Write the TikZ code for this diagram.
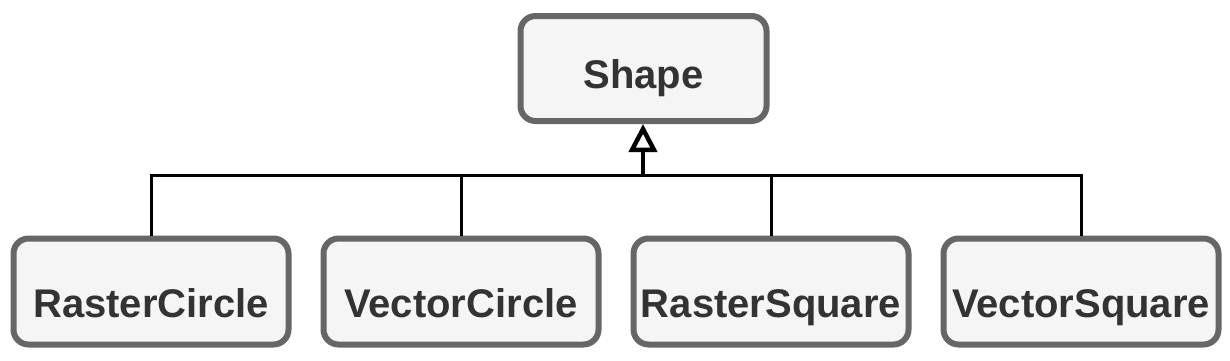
\documentclass[tikz,border=0pt]{standalone}
\usepackage{fontspec}
\setmainfont{Liberation Sans}
\usetikzlibrary{arrows.meta}
\definecolor{boxfill}{HTML}{F5F5F5}
\definecolor{boxdraw}{HTML}{666666}
\definecolor{txt}{HTML}{333333}
\begin{document}
\begin{tikzpicture}[x=1pt,y=-1pt,
  cls/.style={draw=boxdraw,fill=boxfill,line width=6pt,rounded corners=15pt,
    minimum width=275pt,minimum height=106pt,inner sep=0pt},
  lbl/.style={anchor=base,text=txt,inner sep=0pt,
    font=\fontsize{40}{48}\selectfont\bfseries},
  conn/.style={draw=black,line width=3pt}]
\useasboundingbox (0,0) rectangle (1230,360);
\node[cls,minimum width=246pt,minimum height=105pt] (shape) at (643.5,68.5) {};
\node[lbl] (shapet) at (643.5,88) {Shape};
\node[cls] (rc) at (151,291.5) {};
\node[cls] (vc) at (461,291.5) {};
\node[cls] (rs) at (771,291.5) {};
\node[cls] (vs) at (1081,291.5) {};
\node[lbl] (rct) at (151,317) {RasterCircle};
\node[lbl] (vct) at (461,317) {VectorCircle};
\node[lbl] (rst) at (771,317) {RasterSquare};
\node[lbl] (vst) at (1081,317) {VectorSquare};
\coordinate (j) at (643,175);
\draw[conn] (rc.north) |- (j);
\draw[conn] (vc.north) |- (j);
\draw[conn] (rs.north) |- (j);
\draw[conn] (vs.north) |- (j);
\draw[conn,line width=4pt,-{Triangle[open,length=28pt,width=28pt,line width=4.5pt]}] (j) -- (j |- shape.south);
\end{tikzpicture}
\end{document}
